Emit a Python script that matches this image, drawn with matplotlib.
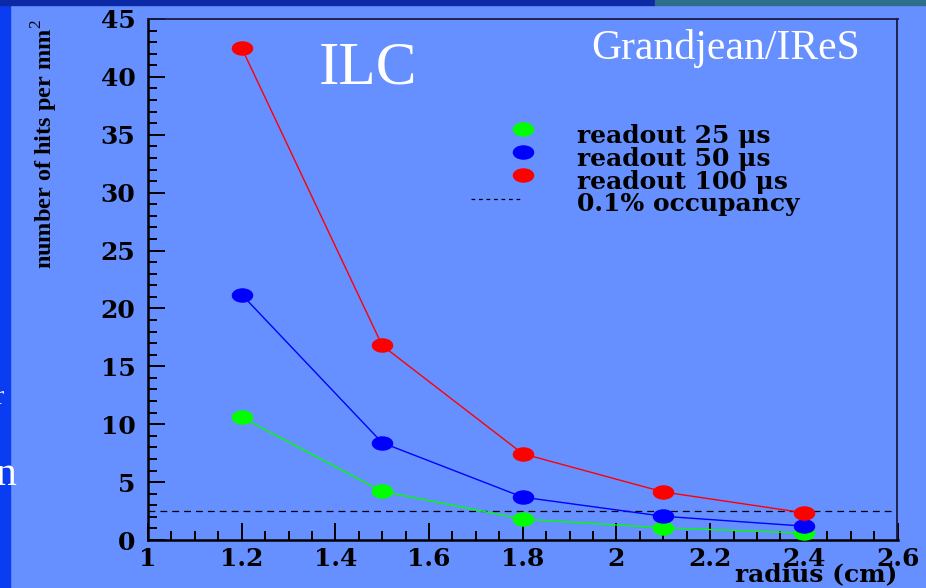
import numpy as np
import matplotlib
matplotlib.use("Agg")
import matplotlib.pyplot as plt
from matplotlib.path import Path
from matplotlib.patches import Rectangle
from matplotlib.ticker import MultipleLocator

# Hit density vs. radius for three readout times
radius = [1.2, 1.5, 1.8, 2.1, 2.4]
hits_25us = [10.6, 4.2, 1.8, 1.05, 0.6]
hits_50us = [21.2, 8.4, 3.7, 2.05, 1.2]
hits_100us = [42.5, 16.8, 7.45, 4.15, 2.35]
occupancy_limit = 2.5

series_labels = ["readout 25 \u03bcs", "readout 50 \u03bcs", "readout 100 \u03bcs"]
series_values = [hits_25us, hits_50us, hits_100us]
series_colors = ["#00ff00", "#0000ff", "#ff0000"]
limit_label = "0.1% occupancy"

plt.rcParams["mathtext.fontset"] = "custom"
plt.rcParams["mathtext.rm"] = "Liberation Serif"
plt.rcParams["mathtext.bf"] = "Liberation Serif:bold"

panel_bg = "#6690ff"
fig = plt.figure(figsize=(9.26, 5.88), dpi=100, facecolor=panel_bg)

# slide background strips around the pasted plot
fig.patches.append(Rectangle((0, 0), 10 / 926, 1, transform=fig.transFigure,
                             color="#0a3cf2", zorder=0))
fig.patches.append(Rectangle((0, 1 - 5 / 588), 655 / 926, 5 / 588,
                             transform=fig.transFigure, color="#0d2aa6", zorder=0))
fig.patches.append(Rectangle((655 / 926, 1 - 5 / 588), 271 / 926, 5 / 588,
                             transform=fig.transFigure, color="#2d6f8a", zorder=0))
fig.text(-4 / 926, 1 - 475 / 588, "n", color="white", fontsize=30,
         family="Liberation Serif", ha="left", va="center")
fig.text(-6 / 926, 1 - 398 / 588, "r", color="white", fontsize=20,
         family="Liberation Serif", ha="left", va="center")

ax = fig.add_axes([148 / 926, 48 / 588, 749.5 / 926, 521 / 588])
ax.set_facecolor(panel_bg)

# elliptical marker, wider than tall
circ = Path.unit_circle()
ellipse = Path(circ.vertices * np.array([1.0, 0.65]), circ.codes)
marker_size = 14.5

for vals, col in zip(series_values, series_colors):
    ax.plot(radius, vals, color=col, lw=1.0, marker=ellipse, ms=marker_size,
            mec=col, mfc=col, zorder=3)

ax.axhline(occupancy_limit, color="black", lw=0.9, dashes=(5.5, 4), zorder=2)

ax.set_xlim(1.0, 2.6)
ax.set_ylim(0, 45)
ax.xaxis.set_major_locator(MultipleLocator(0.2))
ax.xaxis.set_minor_locator(MultipleLocator(0.05))
ax.yaxis.set_major_locator(MultipleLocator(5))
ax.yaxis.set_minor_locator(MultipleLocator(1))
ax.xaxis.set_major_formatter(plt.FuncFormatter(lambda v, p: f"{v:g}"))

ax.tick_params(which="both", direction="in", top=False, right=False,
               color="black", width=1.4)
ax.tick_params(which="major", length=12)
ax.tick_params(which="minor", length=6.5)
ax.tick_params(axis="x", pad=5)
ax.tick_params(axis="y", pad=9)
for t in ax.get_xticklabels() + ax.get_yticklabels():
    t.set_family("DejaVu Serif")
    t.set_fontweight("bold")
    t.set_fontsize(18)

for side in ("left", "bottom"):
    ax.spines[side].set_linewidth(1.8)
for side in ("top", "right"):
    ax.spines[side].set_linewidth(1.3)
    ax.spines[side].set_color("#1a1a40")

ax.set_xlabel("radius (cm)", loc="right", family="DejaVu Serif",
              fontweight="bold", fontsize=18)
ax.xaxis.set_label_coords(1.0, -0.043)

ax.set_ylabel("number of hits per mm$^{2}$", loc="top",
              family="Liberation Serif", fontweight="bold", fontsize=17.5)
ax.yaxis.set_label_coords(-0.118, 1.0)

ax.text(0.228, 0.905, "ILC", transform=ax.transAxes, color="white",
        family="Liberation Serif", fontsize=44, ha="left", va="center")
ax.text(0.591, 0.944, "Grandjean/IReS", transform=ax.transAxes,
        color="white", family="Liberation Serif", fontsize=30,
        ha="left", va="center")

# key, laid out row by row in axes coordinates
key_font = dict(family="DejaVu Serif", fontweight="bold", fontsize=18)
row_marker_y = [0.789, 0.745, 0.701]
row_text_y = [0.762, 0.718, 0.674]
for label, col, my, ty in zip(series_labels, series_colors, row_marker_y, row_text_y):
    ax.plot([0.5003], [my], transform=ax.transAxes, ls="none", marker=ellipse,
            ms=marker_size, mfc=col, mec=col, clip_on=False)
    ax.text(0.5724, ty, label, transform=ax.transAxes, va="baseline",
            ha="left", **key_font)
ax.plot([0.431, 0.499], [0.6545, 0.6545], transform=ax.transAxes,
        color="black", lw=0.9, dashes=(3, 3))
ax.text(0.5724, 0.6315, limit_label, transform=ax.transAxes, va="baseline",
        ha="left", **key_font)

fig.savefig("out.png", dpi=100, facecolor=fig.get_facecolor())
